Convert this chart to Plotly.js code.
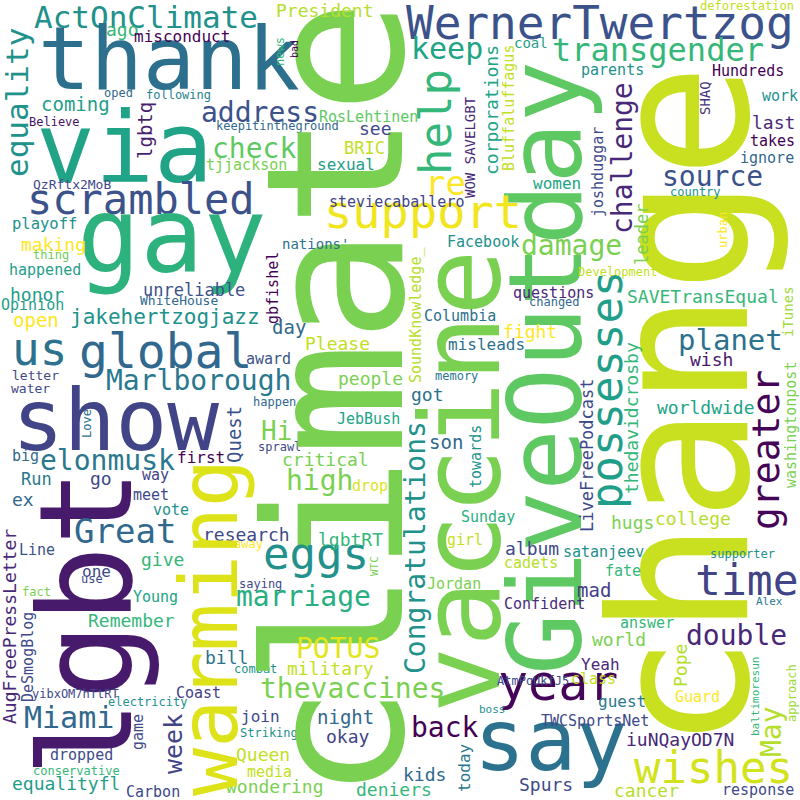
<!DOCTYPE html>
<html>
<head>
<meta charset="utf-8">
<script src="https://cdn.plot.ly/plotly-3.0.1.min.js"></script>
<style>html, body { margin: 0; padding: 0; background: #fff; }</style>
</head>
<body>
<div id="chart" style="width:800px;height:800px"></div>
<script>
// word cloud terms, font size (weight), centre position and colour, same order everywhere
const words = [
    "ActOnClimate","thank","equality","ago","misconduct","via","oped","following","coming","address",
    "lgbtq","Believe","keepitintheground","check","tjjackson","scrambled","QzRftx2MoB","gay","playoff","making",
    "thing","happened","honor","unreliable","Opinion","WhiteHouse","jakehertzogjazz","open","us","global",
    "Marlborough","letter","water","show","award","happen","Love","Quest","Hi","sprawl",
    "elonmusk","first","big","Run","go","way","ex","meet","vote","lgbt",
    "Great","research","Line","AugFreePressLetter","give","one","use","fact","Young","DeSmogBlog",
    "Remember","bill","Coast","yibxOM7hTtRT","electricity","Miami","week","game","join","Striking",
    "dropped","conservative","equalityfl","Carbon","Queen","media","wondering","saying","combat","away",
    "warming","climate","vaccine","GiveOutday","change","say","year","back","time","double",
    "wishes","greater","possesses","planet","wish","SAVETransEqual","Development","questions","changed","iTunes",
    "washingtonpost","thedavidcrosby","LiveFreePodcast","worldwide","hugs","college","President","WernerTwertzog","keep","transgender",
    "coal","news","bad","help","re","support","RosLehtinen","see","BRIC","sexual",
    "corporations","Bluffaluffagus","WOW SAVELGBT","steviecaballero","nations'","Facebook","damage","deforestation","parents","Hundreds",
    "challenge","SHAQ","work","last","takes","ignore","source","joshduggar","women","country",
    "leader","urban","gbfishel","Columbia","day","Please","SoundKnowledge_","misleads","fight","memory",
    "people","got","JebBush","son","critical","towards","high","drop","Sunday","Congratulations",
    "eggs","lgbtRT","WTC","girl","Jordan","album","cadets","Confident","marriage","POTUS",
    "military","thevaccines","AtmPqUkfJ5","boss","night","okay","kids","today","deniers","Spurs",
    "satanjeev","fate","supporter","mad","Alex","answer","world","Yeah","Pope","class",
    "guest","Guard","May","TWCSportsNet","iuNQayOD7N","baltimoresun","approach","cancer","response"
];

const sizes = [
    31,87,31,18,16,98,12,12,19,28,
    19,12,12,28,15,42,13,105,15.5,18,
    12,15,18,17,15,13,21,19,46,48,
    28,13,13,86,15,12,12,19,26,12,
    28,16,15,17,18,15,18,15,15,128,
    34,18,15,18,18,16,12,12,15,15,
    18,18,15,12,12,30,25,15,16,12,
    15,12,18,15,18,15,18,12,12,12,
    80,190,110,102,190,85,50,28,43,28,
    44,38,44,29,18,18,12,15,12,14,
    15,18,17,18,18,18,18,46,30,32,
    14,12,10,44,34,47,15,18,17,16,
    18,15,14,15,14,15,28,12,15,15,
    28,14,15,18,15,15,28,15,16,12,
    17,12,15,15,19,18,15,16,18,12,
    18,18,15,19,18,15,28,15,15,28,
    44,18,11,15,15,18,15,15,28,28,
    18,28,12,11,19,18,18,16,18,18,
    15,15,12,19,11,15,18,16,18,15,
    16,15,28,15,18,11,12,18,15
];

const xPos = [
    146,169,17,122,182,124,118,178,75,260,
    145,54,277,254,246,141,72,172,44,53,
    51,45,37,194,32,179,165,36,39,165,
    198,35,30,115,268,274,87,234,276,279,
    107,201,25,36,101,155,23,151,171,86,
    125,246,37,9,162,96,92,36,155,28,
    131,226,198,75,147,69,173,138,260,269,
    81,76,66,153,263,269,275,260,255,248,
    209,336,461,545,681,551,558,445,747,736,
    713,766,606,730,711,703,617,553,554,788,
    791,631,587,706,632,693,325,600,447,658,
    531,280,294,435,445,423,368,375,364,346,
    491,509,470,396,315,483,571,747,612,748,
    622,705,780,773,772,767,712,598,557,695,
    642,723,273,460,289,337,416,486,530,456,
    370,427,368,446,325,476,319,370,488,415,
    316,350,374,465,454,532,531,544,303,338,
    330,352,533,492,345,348,424,464,394,546,
    603,623,742,594,769,647,619,600,680,593,
    622,697,771,595,680,755,792,646,758
];

const yPos = [
    17,59,103,29,36,148,93,95,104,112,
    131,122,126,148,165,199,184,236,224,244,
    255,270,294,290,305,300,317,320,349,351,
    380,375,388,420,359,402,424,435,431,447,
    460,457,456,479,478,475,499,495,510,623,
    531,534,550,627,559,571,579,592,597,657,
    620,657,693,694,702,717,744,732,716,733,
    755,771,783,792,754,772,786,584,669,544,
    628,400,481,368,407,740,683,727,580,635,
    767,450,390,340,359,296,272,293,302,312,
    425,418,455,407,522,518,10,23,48,50,
    43,52,49,122,183,211,117,128,148,164,
    110,108,147,202,244,242,245,6,70,71,
    158,98,96,122,141,158,176,172,183,192,
    235,230,288,316,327,343,315,344,331,376,
    378,394,419,442,459,457,480,486,517,548,
    553,539,566,540,584,548,563,604,596,648,
    668,688,681,709,717,736,774,768,789,784,
    552,571,554,590,601,623,639,664,666,679,
    701,697,732,721,739,697,693,790,790
];

const colors = [
    "#21918c","#2d708e","#20928c","#35b779","#440154","#20a386","#31688e","#26828e","#1f9e89","#3b528b",
    "#481f70","#471365","#31688e","#5ec962","#7ad151","#3b528b","#3e4989","#2db27d","#21918c","#fde725",
    "#6ece58","#1f9e89","#1f9e89","#3b528b","#1f9e89","#31688e","#21918c","#fde725","#2c728e","#31688e",
    "#2a788e","#3e4989","#3e4989","#414487","#3b528b","#31688e","#2c728e","#3b528b","#7ad151","#3e4989",
    "#2a788e","#440154","#31688e","#2a788e","#3e4989","#414487","#31688e","#3e4989","#21918c","#481a6c",
    "#31688e","#3e4989","#3b528b","#482878","#35b779","#3e4989","#3e4989","#7ad151","#20a486","#3e4989",
    "#35b779","#2c728e","#433e85","#3e4989","#21918c","#31688e","#414487","#3e4989","#3e4989","#21918c",
    "#3e4989","#35b779","#1f9e89","#3e4989","#c2df23","#c2df23","#7ad151","#3e4989","#21918c","#fde725",
    "#dde318","#7ad151","#7ad151","#5ec962","#c8e020","#2c728e","#450559","#440154","#414487","#482878",
    "#d2e21b","#450457","#1f9e89","#2c728e","#481a6c","#35b779","#c2df23","#482878","#31688e","#a0da39",
    "#7ad151","#35b779","#3e4989","#20a486","#7ad151","#b5de2b","#b5de2b","#3b528b","#20a486","#35b779",
    "#1f9e89","#35b779","#440154","#35b779","#fde725","#f1e51d","#5ec962","#3e4989","#c2df23","#1f9e89",
    "#20a486","#c2df23","#482878","#414487","#2c728e","#21918c","#7ad151","#c2df23","#21918c","#440154",
    "#482878","#46327e","#21918c","#482878","#440154","#31688e","#3b528b","#3e4989","#20a486","#21918c",
    "#7ad151","#fde725","#440154","#2c728e","#31688e","#c2df23","#b5de2b","#2c728e","#fde725","#2a788e",
    "#7ad151","#2c728e","#20a486","#31688e","#7ad151","#21918c","#7ad151","#dde318","#29af7f","#21918c",
    "#21918c","#35b779","#7ad151","#c2df23","#7ad151","#3e4989","#b5de2b","#472d7b","#29af7f","#e5e419",
    "#c2df23","#7ad151","#3e4989","#21918c","#31688e","#414487","#31688e","#2a788e","#35b779","#3e4989",
    "#21918c","#35b779","#21918c","#433e85","#2a788e","#35b779","#7ad151","#482878","#b5de2b","#c2df23",
    "#2a788e","#fde725","#b5de2b","#3e4989","#482878","#35b779","#a0da39","#b5de2b","#3e4989"
];

// words drawn reading bottom-to-top
const verticalWords = [
    "equality","lgbtq","Love","Quest","lgbt","AugFreePressLetter","DeSmogBlog","week","game","warming",
    "climate","vaccine","GiveOutday","change","greater","possesses","iTunes","washingtonpost","thedavidcrosby","LiveFreePodcast",
    "news","bad","help","corporations","Bluffaluffagus","WOW SAVELGBT","challenge","SHAQ","joshduggar","leader",
    "urban","gbfishel","SoundKnowledge_","towards","Congratulations","WTC","today","Pope","May","baltimoresun",
    "approach"
];

const initChart = () => {
    let annotations = words.map((w, i) => ({
        x: xPos[i],
        y: yPos[i],
        xref: "x",
        yref: "y",
        text: w,
        showarrow: false,
        xanchor: "center",
        yanchor: "middle",
        textangle: verticalWords.includes(w) ? -90 : 0,
        font: { family: "DejaVu Sans Mono", size: sizes[i], color: colors[i] },
    }));
    let layout = {
        width: 800,
        height: 800,
        margin: { l: 0, r: 0, t: 0, b: 0, pad: 0 },
        paper_bgcolor: "#ffffff",
        plot_bgcolor: "#ffffff",
        showlegend: false,
        xaxis: { range: [0, 800], visible: false, fixedrange: true },
        yaxis: { range: [800, 0], visible: false, fixedrange: true },
        annotations: annotations,
    };
    let config = { responsive: false, displayModeBar: false, staticPlot: true };
    Plotly.newPlot("chart", [], layout, config);
};

initChart();
</script>
</body>
</html>
